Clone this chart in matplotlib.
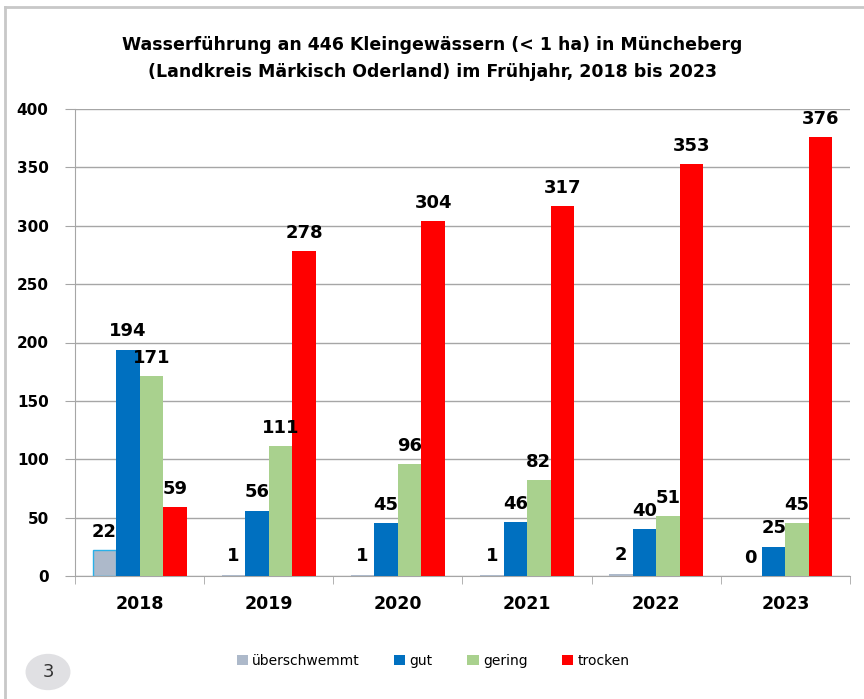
import matplotlib.pyplot as plt
import numpy as np
from matplotlib.patches import Circle

jahre = ["2018", "2019", "2020", "2021", "2022", "2023"]
ueberschwemmt = [22, 1, 1, 1, 2, 0]
gut = [194, 56, 45, 46, 40, 25]
gering = [171, 111, 96, 82, 51, 45]
trocken = [59, 278, 304, 317, 353, 376]

serien = ["überschwemmt", "gut", "gering", "trocken"]
farben = ["#adb9ca", "#0070c0", "#a9d18e", "#ff0000"]

plt.rcParams['font.family'] = ['DejaVu Sans']

fig = plt.figure(figsize=(8.64, 6.99), dpi=100)
ax = fig.add_axes([75 / 864, 1 - 576 / 699, 775 / 864, 467 / 699])

x = np.arange(len(jahre))
breite = 0.182
werte = [ueberschwemmt, gut, gering, trocken]
erste_bars = None
for i, (name, daten, farbe) in enumerate(zip(serien, werte, farben)):
    pos = x + (i - 1.5) * breite
    bars = ax.bar(pos, daten, breite, color=farbe, label=name, zorder=3)
    if i == 0:
        erste_bars = bars
    for p, v in zip(pos, daten):
        ax.text(p, v + 8, str(v), ha="center", va="bottom",
                fontsize=13, fontweight="bold", zorder=4)

ax.set_ylim(0, 400)
ax.set_xlim(-0.5, len(jahre) - 0.5)
ax.set_yticks(range(0, 401, 50))
ax.yaxis.grid(True, color="#a6a6a6", linewidth=1, zorder=0)
ax.set_xticks(x)
ax.set_xticklabels(jahre)
ax.set_xticks(np.arange(-0.5, len(jahre)), minor=True)
ax.tick_params(axis="x", which="major", length=0, pad=14, labelsize=12.5)
ax.tick_params(axis="x", which="minor", length=6, color="#a6a6a6")
ax.tick_params(axis="y", length=7, color="#a6a6a6", labelsize=11, pad=12)
for lbl in ax.get_xticklabels() + ax.get_yticklabels():
    lbl.set_fontweight("bold")
for s in ["top", "right"]:
    ax.spines[s].set_visible(False)
ax.spines["bottom"].set_color("#a6a6a6")
ax.spines["left"].set_color("#a6a6a6")

fig.text(0.5, 1 - 45 / 699, "Wasserführung an 446 Kleingewässern (< 1 ha) in Müncheberg",
         ha="center", va="center", fontsize=12.5, fontweight="bold")
fig.text(0.5, 1 - 72 / 699, "(Landkreis Märkisch Oderland) im Frühjahr, 2018 bis 2023",
         ha="center", va="center", fontsize=12.5, fontweight="bold")

fig.legend(loc="center", bbox_to_anchor=(433 / 864, 1 - 661 / 699), ncol=4,
           frameon=False, fontsize=10, handlelength=0.8, handleheight=0.8,
           handletextpad=0.3, columnspacing=2.5)

# 2018 hat einen hellblauen Rand
erste_bars[0].set_edgecolor("#2ab0e8")
erste_bars[0].set_linewidth(1)

# Rahmen oben und links
fig.add_artist(plt.Line2D([5 / 864, 1], [1 - 7 / 699, 1 - 7 / 699], color="#c8c8c8", lw=2))
fig.add_artist(plt.Line2D([5 / 864, 5 / 864], [0, 1 - 7 / 699], color="#c8c8c8", lw=2))

# Seitennummer
kreis = Circle((48 / 864, 1 - 672 / 699), 0.026, transform=fig.transFigure,
               facecolor="#e0e0e3", edgecolor="none")
fig.add_artist(kreis)
fig.text(48 / 864, 1 - 672 / 699, "3", ha="center", va="center", fontsize=13, color="#333333")

fig.savefig("out.png", dpi=100)
